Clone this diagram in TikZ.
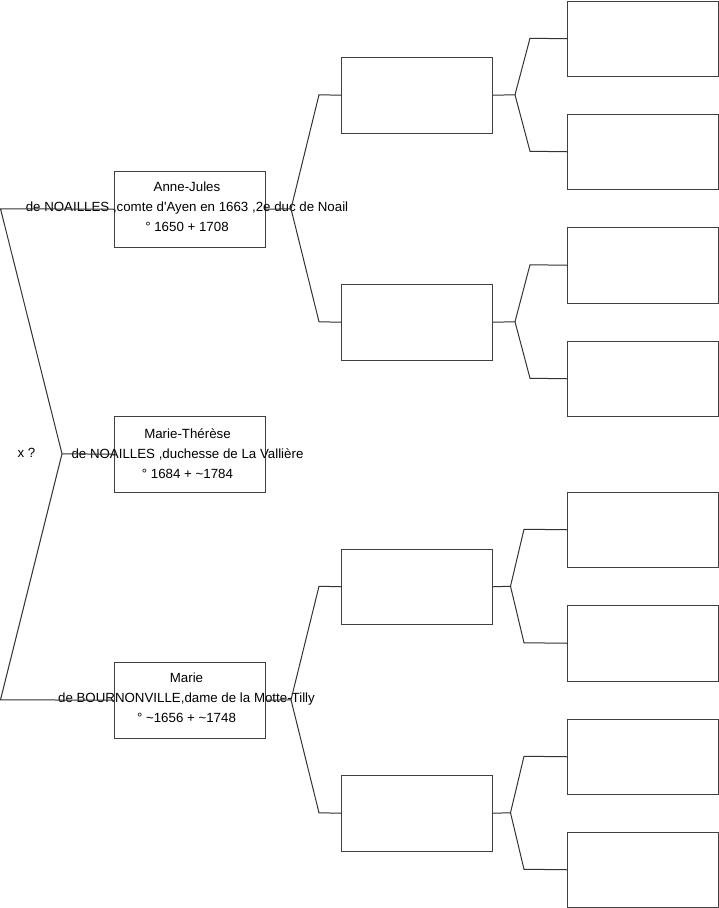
\documentclass[tikz,border=0pt]{standalone}
\usepackage{fontspec}
\setmainfont{Liberation Sans}
\begin{document}
\begin{tikzpicture}[x=1pt,y=-1pt,
  pbox/.style={draw=black!75,line width=1pt,minimum width=151pt,minimum height=75.5pt,inner sep=0pt,anchor=north west},
  conn/.style={draw=black!80,line width=1pt},
  lbl/.style={align=center,font=\fontsize{13.3}{20}\selectfont,inner sep=0pt}]
\useasboundingbox (0,0) rectangle (719,908);
% generation 1
\node[pbox] (g1a) at (114,171) {};
\node[pbox] (g1b) at (114,416) {};
\node[pbox] (g1c) at (114,662) {};
% generation 2
\node[pbox] (g2a) at (341,57) {};
\node[pbox] (g2b) at (341,284) {};
\node[pbox] (g2c) at (341,548.5) {};
\node[pbox] (g2d) at (341,775) {};
% generation 3
\node[pbox] (g3a) at (567,0.5) {};
\node[pbox] (g3b) at (567,113.5) {};
\node[pbox] (g3c) at (567,227) {};
\node[pbox] (g3d) at (567,340.5) {};
\node[pbox] (g3e) at (567,491.5) {};
\node[pbox] (g3f) at (567,605) {};
\node[pbox] (g3g) at (567,718.5) {};
\node[pbox] (g3h) at (567,831.5) {};
% labels
\node[lbl] (ta) at (187,207) {Anne-Jules\\de NOAILLES ,comte d\textquotesingle Ayen en 1663 ,2e duc de Noail\\° 1650 + 1708};
\node[lbl] (tb) at (187.5,454) {Marie-Thérèse\\de NOAILLES ,duchesse de La Vallière\\° 1684 + \textasciitilde1784};
\node[lbl] (tc) at (186.5,698) {Marie\\de BOURNONVILLE,dame de la Motte-Tilly\\° \textasciitilde1656 + \textasciitilde1748};
\node[lbl] (tx) at (26.5,452.5) {x ?};
% left bracket
\coordinate (l1) at (0.5,208.75);
\coordinate (l2) at (62,453.75);
\coordinate (l3) at (0.5,699.75);
\draw[conn] (g1a.west) -- (l1) -- (l2) -- (l3) -- (g1c.west);
\draw[conn] (l2) -- (g1b.west);
% gen1 -> gen2
\coordinate (ap1) at (291,208.75);
\coordinate (ap1u) at (319,94.75);
\coordinate (ap1d) at (319,321.75);
\draw[conn] (g1a.east) -- (ap1) -- (ap1u) -- (g2a.west);
\draw[conn] (ap1) -- (ap1d) -- (g2b.west);
\coordinate (ap2) at (291,699.75);
\coordinate (ap2u) at (319,586.25);
\coordinate (ap2d) at (319,812.75);
\draw[conn] (g1c.east) -- (ap2) -- (ap2u) -- (g2c.west);
\draw[conn] (ap2) -- (ap2d) -- (g2d.west);
% gen2 -> gen3
\coordinate (ap3) at (515,94.75);
\coordinate (ap3u) at (530,38.25);
\coordinate (ap3d) at (530,151.25);
\draw[conn] (g2a.east) -- (ap3) -- (ap3u) -- (g3a.west);
\draw[conn] (ap3) -- (ap3d) -- (g3b.west);
\coordinate (ap4) at (515,321.75);
\coordinate (ap4u) at (530,264.75);
\coordinate (ap4d) at (530,378.25);
\draw[conn] (g2b.east) -- (ap4) -- (ap4u) -- (g3c.west);
\draw[conn] (ap4) -- (ap4d) -- (g3d.west);
\coordinate (ap5) at (510.5,586.25);
\coordinate (ap5u) at (524,529.25);
\coordinate (ap5d) at (524,642.75);
\draw[conn] (g2c.east) -- (ap5) -- (ap5u) -- (g3e.west);
\draw[conn] (ap5) -- (ap5d) -- (g3f.west);
\coordinate (ap6) at (510.5,812.75);
\coordinate (ap6u) at (524,756.25);
\coordinate (ap6d) at (524,869.25);
\draw[conn] (g2d.east) -- (ap6) -- (ap6u) -- (g3g.west);
\draw[conn] (ap6) -- (ap6d) -- (g3h.west);
\end{tikzpicture}
\end{document}
